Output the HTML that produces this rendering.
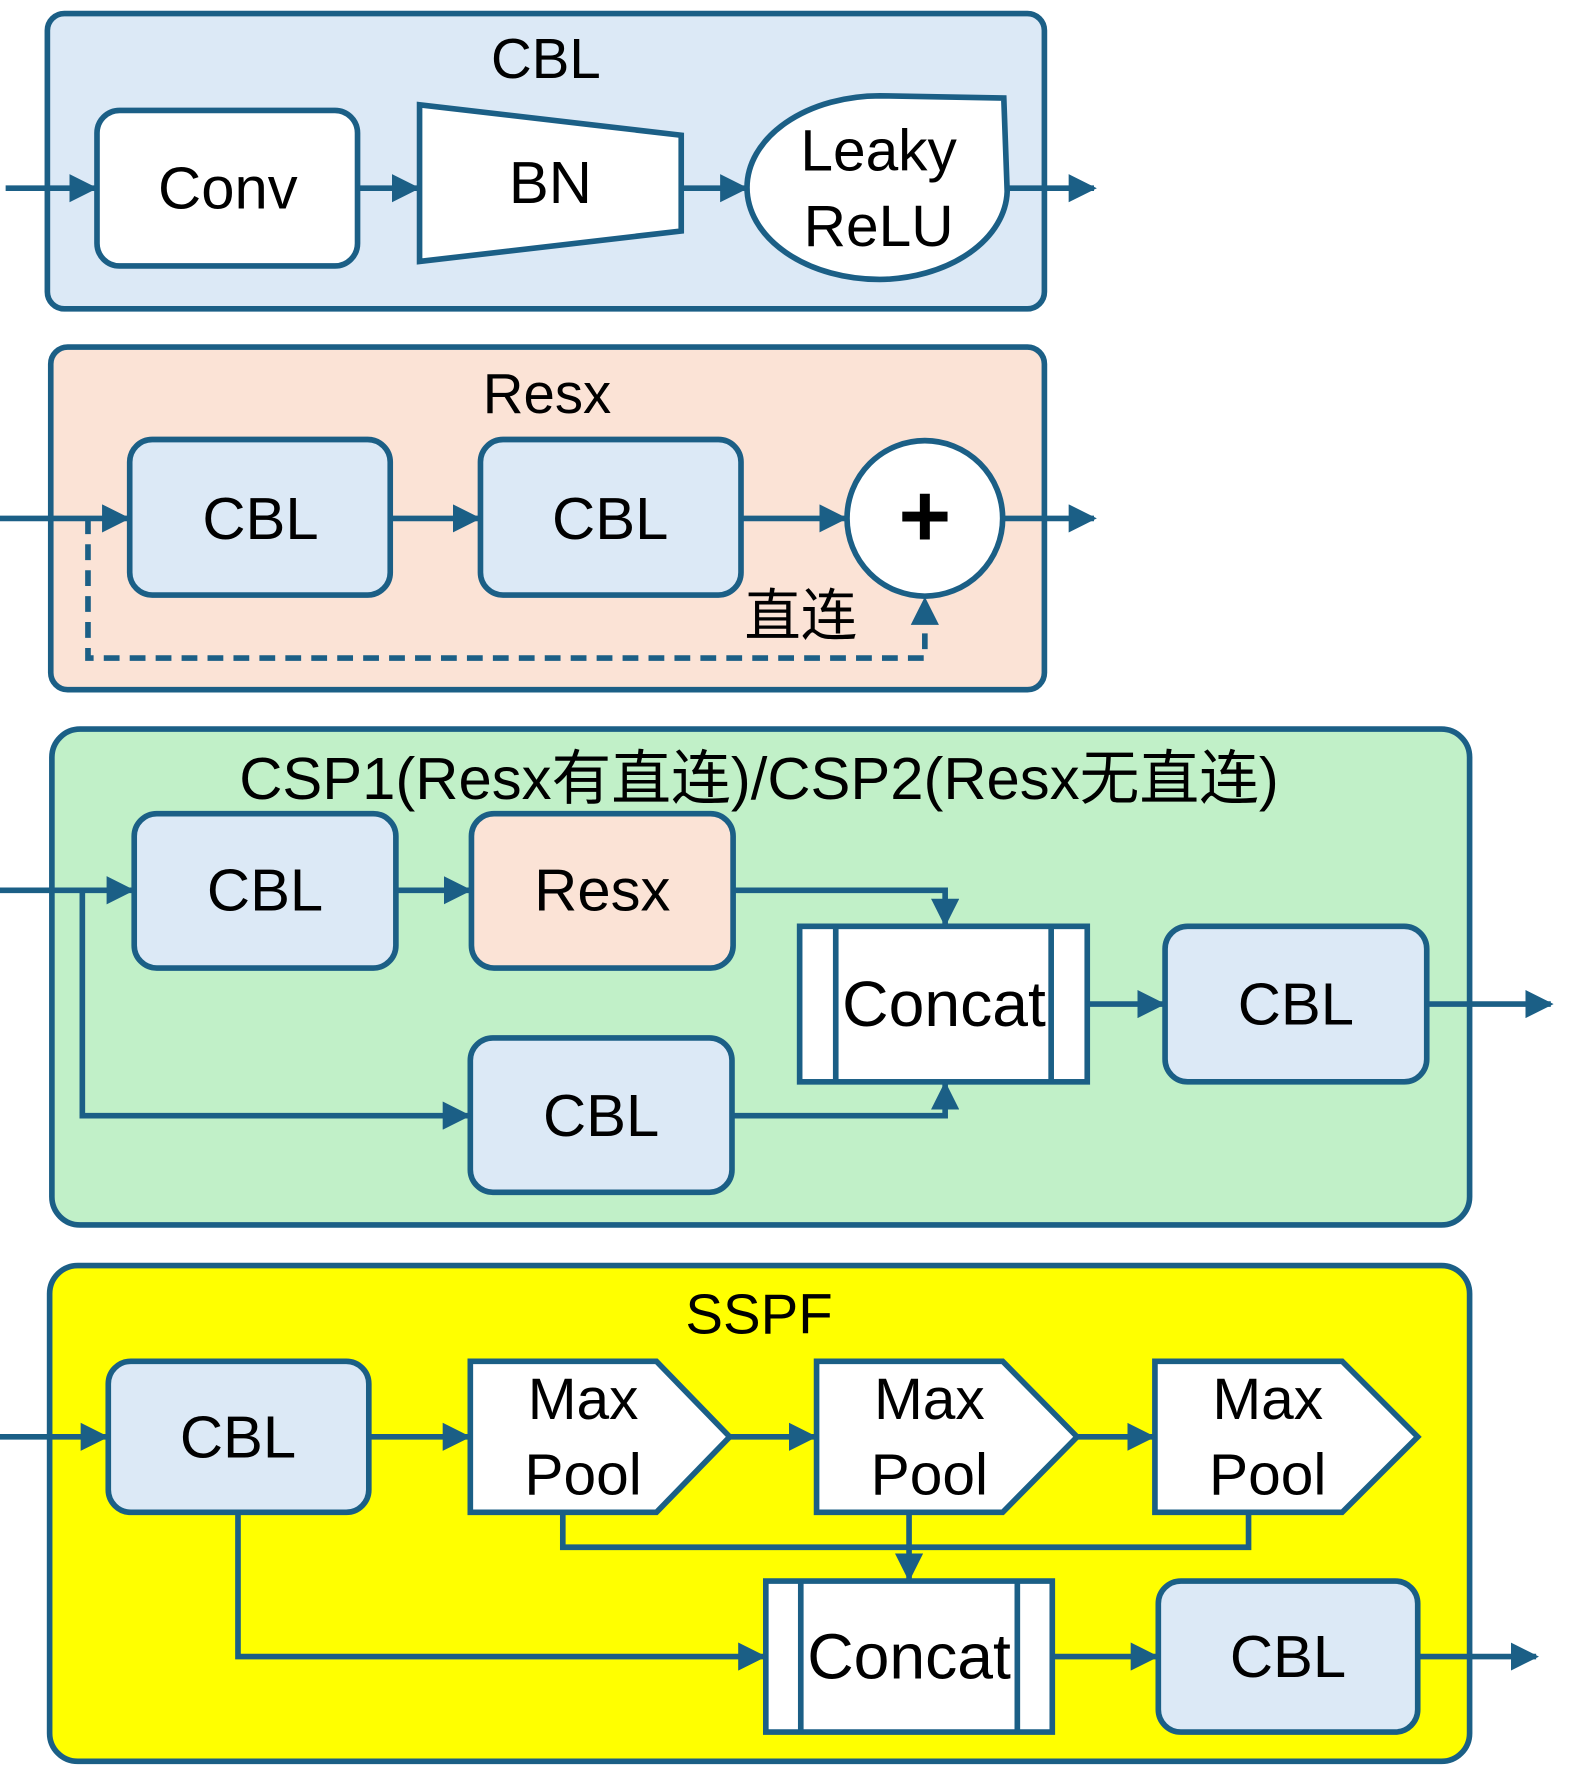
<!DOCTYPE html>
<html><head><meta charset="utf-8"><style>
html,body{margin:0;padding:0;background:#fff;}
svg{display:block;}
text{font-family:"Liberation Sans","Noto Sans CJK SC",sans-serif;fill:#000;text-anchor:middle;dominant-baseline:central;}
</style></head><body>
<svg width="1579" height="1767" viewBox="0 0 1400 1568" preserveAspectRatio="none" xmlns="http://www.w3.org/2000/svg">
<defs>
<marker id="a" viewBox="0 0 10 10" refX="9" refY="5" markerWidth="5" markerHeight="5" orient="auto-start-reverse" markerUnits="strokeWidth">
<path d="M0,0 L10,5 L0,10 Z" fill="#1b5f86"/></marker>
</defs>
<g stroke="#1b5f86" stroke-width="5" fill="none">
<rect x="42" y="12" width="884" height="262" rx="15" fill="#dce9f6"/>
<rect x="86" y="98" width="231" height="138" rx="20" fill="#fff"/>
<polygon points="372,93 604,120 604,205 372,232" fill="#fff"/>
<path d="M780,85 L890,87 L893,170 A115 80 0 0 1 780,248 A117 81 0 0 1 780,85 Z" fill="#fff"/>
<line x1="5" y1="167" x2="84" y2="167" marker-end="url(#a)"/>
<line x1="317" y1="167" x2="370" y2="167" marker-end="url(#a)"/>
<line x1="604" y1="167" x2="661" y2="167" marker-end="url(#a)"/>
<line x1="893" y1="167" x2="970" y2="167" marker-end="url(#a)"/>
<rect x="45" y="308" width="881" height="304" rx="15" fill="#fbe3d6"/>
<rect x="115" y="390" width="231" height="138" rx="20" fill="#dce9f6"/>
<rect x="426" y="390" width="231" height="138" rx="20" fill="#dce9f6"/>
<circle cx="820" cy="460" r="69" fill="#fff"/>
<line x1="0" y1="460" x2="113" y2="460" marker-end="url(#a)"/>
<line x1="346" y1="460" x2="424" y2="460" marker-end="url(#a)"/>
<line x1="657" y1="460" x2="749" y2="460" marker-end="url(#a)"/>
<line x1="889" y1="460" x2="970" y2="460" marker-end="url(#a)"/>
<path d="M78,460 V584 H820 V532" stroke-dasharray="14,9" marker-end="url(#a)"/>
<rect x="46" y="647" width="1257" height="440" rx="25" fill="#c1f0c8"/>
<rect x="119" y="722" width="232" height="137" rx="20" fill="#dce9f6"/>
<rect x="418" y="722" width="232" height="137" rx="20" fill="#fbe3d6"/>
<rect x="417" y="921" width="232" height="137" rx="20" fill="#dce9f6"/>
<rect x="1033" y="822" width="232" height="138" rx="20" fill="#dce9f6"/>
<rect x="709" y="822" width="255" height="138" fill="#fff"/>
<line x1="741" y1="822" x2="741" y2="960"/><line x1="932" y1="822" x2="932" y2="960"/>
<line x1="0" y1="790" x2="117" y2="790" marker-end="url(#a)"/>
<path d="M73,790 V990 H415" marker-end="url(#a)"/>
<line x1="351" y1="790" x2="416" y2="790" marker-end="url(#a)"/>
<path d="M650,790 H838 V820" marker-end="url(#a)"/>
<path d="M649,990 H838 V962" marker-end="url(#a)"/>
<line x1="964" y1="891" x2="1031" y2="891" marker-end="url(#a)"/>
<line x1="1265" y1="891" x2="1375" y2="891" marker-end="url(#a)"/>
<rect x="44" y="1123" width="1259" height="440" rx="25" fill="#ffff00"/>
<rect x="96" y="1208" width="231" height="134" rx="20" fill="#dce9f6"/>
<polygon points="417,1208 582,1208 647,1275 582,1342 417,1342" fill="#fff"/>
<polygon points="724,1208 889,1208 955,1275 889,1342 724,1342" fill="#fff"/>
<polygon points="1024,1208 1190,1208 1257,1275 1190,1342 1024,1342" fill="#fff"/>
<rect x="679" y="1403" width="254" height="134" fill="#fff"/>
<line x1="710" y1="1403" x2="710" y2="1537"/><line x1="902" y1="1403" x2="902" y2="1537"/>
<rect x="1027" y="1403" width="230" height="134" rx="20" fill="#dce9f6"/>
<line x1="0" y1="1275" x2="94" y2="1275" marker-end="url(#a)"/>
<line x1="327" y1="1275" x2="415" y2="1275" marker-end="url(#a)"/>
<line x1="647" y1="1275" x2="722" y2="1275" marker-end="url(#a)"/>
<line x1="955" y1="1275" x2="1022" y2="1275" marker-end="url(#a)"/>
<path d="M499,1342 V1373 H1107 V1342"/>
<line x1="806" y1="1342" x2="806" y2="1401" marker-end="url(#a)"/>
<path d="M211,1342 V1470 H677" marker-end="url(#a)"/>
<line x1="933" y1="1470" x2="1025" y2="1470" marker-end="url(#a)"/>
<line x1="1257" y1="1470" x2="1362" y2="1470" marker-end="url(#a)"/>
</g>
<g font-size="52">
<text x="484" y="52" font-size="50">CBL</text>
<text x="202" y="167" font-size="53">Conv</text>
<text x="488" y="162" font-size="53">BN</text>
<text x="779" y="134">Leaky</text>
<text x="779" y="201">ReLU</text>
<text x="485" y="349" font-size="50">Resx</text>
<text x="231" y="460" font-size="53">CBL</text>
<text x="541" y="460" font-size="53">CBL</text>
<text x="820" y="458" font-size="80" font-weight="bold">+</text>
<text x="710" y="546" font-size="50">直连</text>
<text x="673" y="691" font-size="53">CSP1(Resx有直连)/CSP2(Resx无直连)</text>
<text x="235" y="790" font-size="53">CBL</text>
<text x="534" y="790" font-size="53">Resx</text>
<text x="533" y="990" font-size="53">CBL</text>
<text x="837" y="891" font-size="57">Concat</text>
<text x="1149" y="891" font-size="53">CBL</text>
<text x="673" y="1166" font-size="50">SSPF</text>
<text x="211" y="1275" font-size="53">CBL</text>
<text x="517" y="1242">Max</text><text x="517" y="1309">Pool</text>
<text x="824" y="1242">Max</text><text x="824" y="1309">Pool</text>
<text x="1124" y="1242">Max</text><text x="1124" y="1309">Pool</text>
<text x="806" y="1470" font-size="57">Concat</text>
<text x="1142" y="1470" font-size="53">CBL</text>
</g>
</svg>
</body></html>
